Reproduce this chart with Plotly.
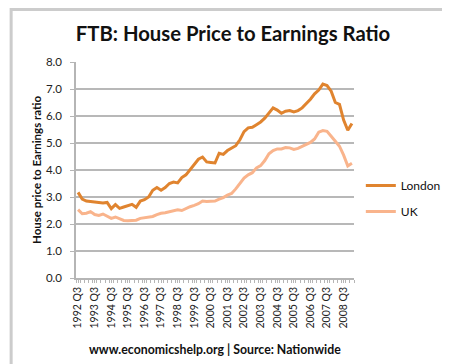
import plotly.graph_objects as go

quarters = []
for y in range(1992, 2010):
    for q in (1, 2, 3, 4):
        if (y == 1992 and q < 3) or (y == 2009 and q > 1):
            continue
        quarters.append(f"{y} Q{q}")

london = [3.17, 2.92, 2.85, 2.83, 2.82, 2.80, 2.78, 2.80, 2.57, 2.72,
          2.58, 2.63, 2.68, 2.73, 2.62, 2.85, 2.90, 3.00, 3.25, 3.35,
          3.25, 3.35, 3.50, 3.55, 3.52, 3.72, 3.82, 4.00, 4.18, 4.40,
          4.48, 4.30, 4.28, 4.26, 4.62, 4.58, 4.72, 4.80, 4.90, 5.12,
          5.42, 5.56, 5.58, 5.68, 5.78, 5.92, 6.10, 6.30, 6.22, 6.10,
          6.18, 6.20, 6.15, 6.20, 6.30, 6.45, 6.62, 6.82, 6.96, 7.18,
          7.13, 6.92, 6.50, 6.43, 5.85, 5.47, 5.72]

uk = [2.53, 2.38, 2.40, 2.46, 2.35, 2.32, 2.37, 2.28, 2.21, 2.26,
      2.18, 2.13, 2.12, 2.12, 2.14, 2.21, 2.24, 2.25, 2.28, 2.35,
      2.40, 2.42, 2.45, 2.50, 2.53, 2.50, 2.58, 2.64, 2.69, 2.75,
      2.85, 2.83, 2.84, 2.85, 2.92, 2.98, 3.07, 3.13, 3.30, 3.52,
      3.70, 3.82, 3.90, 4.08, 4.16, 4.35, 4.60, 4.72, 4.78, 4.78,
      4.83, 4.82, 4.76, 4.80, 4.88, 4.95, 5.02, 5.15, 5.40, 5.46,
      5.43, 5.25, 5.05, 4.88, 4.55, 4.15, 4.25]

y_ticks = [0, 1, 2, 3, 4, 5, 6, 7, 8]

idx = list(range(len(quarters)))
label_idx = [i for i, q in enumerate(quarters) if q.endswith("Q3")]
label_txt = [quarters[i] for i in label_idx]

FONT = "Lato"
fig = go.Figure()
fig.add_trace(go.Scatter(x=idx, y=london, name="London", mode="lines",
                         line=dict(color="#E0842F", width=3), legendgroup="a"))
fig.add_trace(go.Scatter(x=idx, y=uk, name="UK", mode="lines",
                         line=dict(color="#F9B48C", width=3), legendgroup="b"))

L, R, T, B = 68, 97, 54, 94
W, H = 450, 364
pw, ph = W - L - R, H - T - B

def px(x):
    return (x - L) / pw

def py(y):
    return (H - B - y) / ph

fig.update_layout(
    width=W, height=H,
    margin=dict(l=L, r=R, t=T, b=B),
    paper_bgcolor="white", plot_bgcolor="white",
    font=dict(family=FONT, color="#222"),
    title=dict(text="<b>FTB: House Price to Earnings Ratio</b>",
               x=0.5, xref="container", xanchor="center",
               y=1 - 26 / H, yanchor="middle",
               font=dict(size=20.3, color="#111", family=FONT)),
    showlegend=True,
    legend=dict(x=px(360), y=py(163), xanchor="left", yanchor="top",
                font=dict(size=12, color="#111"), tracegroupgap=7,
                itemwidth=30, bgcolor="rgba(0,0,0,0)"),
    xaxis=dict(range=[-0.5, len(quarters) - 0.5], tickmode="array",
               tickvals=label_idx, ticktext=label_txt, tickangle=-90,
               showgrid=False, zeroline=False, showline=True,
               linecolor="#b5b5b5", linewidth=1.5,
               ticks="outside", ticklen=3, tickcolor="#b5b5b5",
               tickfont=dict(size=10.5, color="#222", family=FONT),
               minor=dict(dtick=1, tick0=-0.5, ticks="outside", ticklen=3,
                          tickcolor="#b5b5b5", showgrid=False)),
    yaxis=dict(range=[0, 8], tickvals=y_ticks,
               ticktext=[f"{v:.1f}" for v in y_ticks],
               showgrid=True, gridcolor="#b8b8b8", gridwidth=1.5,
               zeroline=False, showline=True, linecolor="#b5b5b5",
               linewidth=1.5, ticks="outside", ticklen=4, tickcolor="#b5b5b5",
               ticklabelstandoff=6,
               tickfont=dict(size=11.5, color="#222", family=FONT)),
    annotations=[
        dict(text="<b>House price to Earnings ratio</b>", textangle=-90,
             x=px(27), y=py(162), xref="paper", yref="paper",
             xanchor="center", yanchor="middle",
             showarrow=False, font=dict(size=11.5, color="#111", family=FONT)),
        dict(text="<b>www.economicshelp.org | Source: Nationwide</b>",
             x=px(210), y=py(341), xref="paper", yref="paper",
             xanchor="center", yanchor="middle",
             showarrow=False, font=dict(size=12.3, color="#111", family=FONT)),
    ],
    shapes=[dict(type="rect", xref="paper", yref="paper",
                 x0=px(1.5), x1=px(448.5), y0=py(362.5), y1=py(1.5),
                 line=dict(color="#cccccc", width=3), layer="below")],
)

fig.write_html("out.html")
